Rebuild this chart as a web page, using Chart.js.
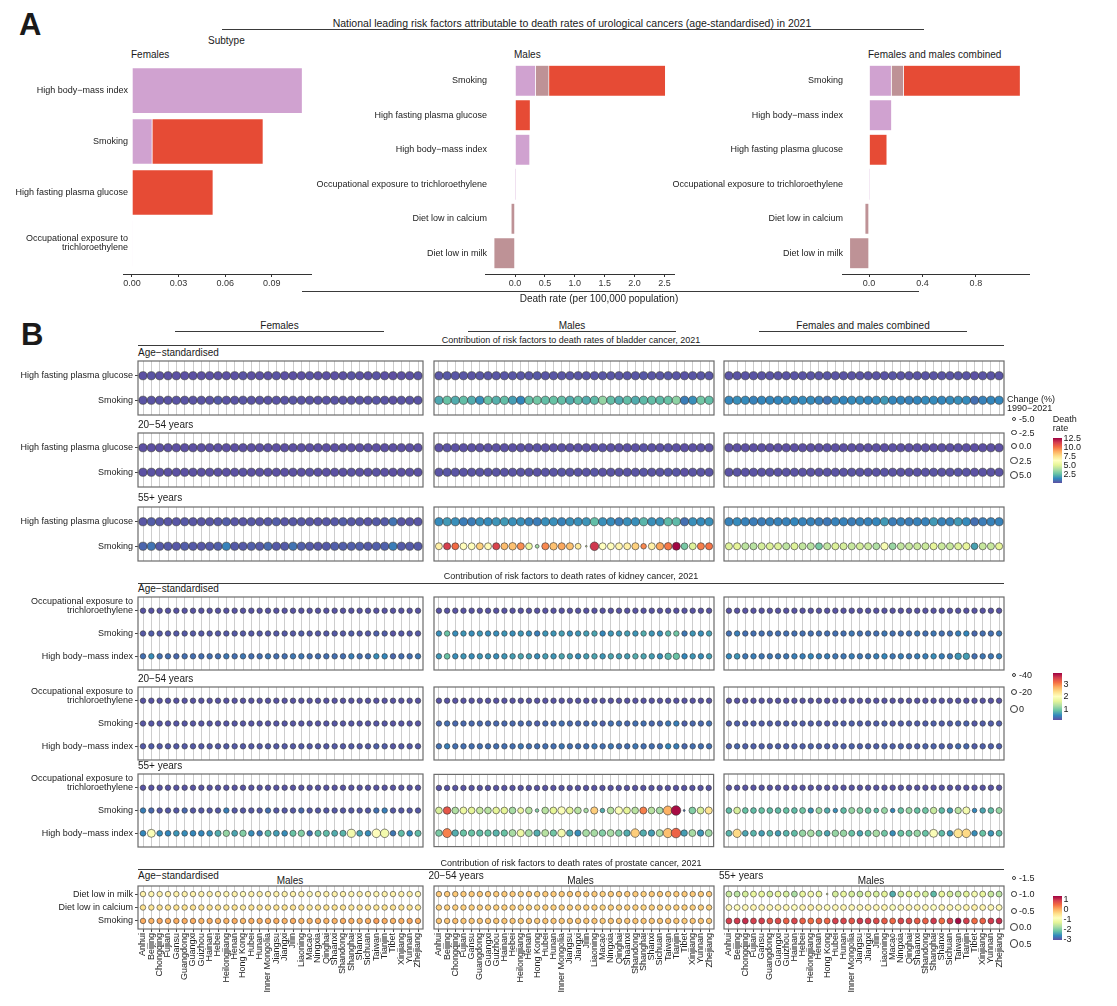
<!DOCTYPE html>
<html>
<head>
<meta charset="utf-8">
<script src="https://cdn.jsdelivr.net/npm/chart.js@4.4.1/dist/chart.umd.min.js"></script>
<style>
body { margin: 0; background: #fff; font-family: "Liberation Sans", Arial, sans-serif; color: #1a1a1a; }
#page { position: relative; width: 1117px; height: 1006px; overflow: hidden; background: #fff; }
.t { position: absolute; white-space: nowrap; line-height: 1; }
.hl { position: absolute; height: 0; border-top: 1px solid #3a3a3a; }
.key { position: absolute; border: 0.8px solid #333; border-radius: 50%; background: #fff; box-sizing: border-box; }
.bar { position: absolute; }
canvas { position: absolute; }
</style>
</head>
<body>
<div id="page"></div>
<script>
// ---------- panel A data ----------
const femaleRisks = ['High body−mass index', 'Smoking', 'High fasting plasma glucose', ['Occupational exposure to', 'trichloroethylene']];
const afKidney   = [0.1097, 0.0131, 0, 0.0003];
const afProstate = [0, 0, 0, 0];
const afBladder  = [0, 0.0714, 0.0523, 0];
const afTicks = [0, 0.03, 0.06, 0.09];

const maleRisks = ['Smoking', 'High fasting plasma glucose', 'High body−mass index', 'Occupational exposure to trichloroethylene', 'Diet low in calcium', 'Diet low in milk'];
const amKidney   = [0.347, 0, 0.25, 0.003, 0, 0];
const amProstate = [0.223, 0, 0, 0, -0.068, -0.355];
const amBladder  = [1.95, 0.258, 0, 0, 0, 0];
const amTicks = [0, 0.5, 1, 1.5, 2, 2.5];

const bothRisks = ['Smoking', 'High body−mass index', 'High fasting plasma glucose', 'Occupational exposure to trichloroethylene', 'Diet low in calcium', 'Diet low in milk'];
const acKidney   = [0.168, 0.17, 0, 0.002, 0, 0];
const acProstate = [0.092, 0, 0, 0, -0.032, -0.147];
const acBladder  = [0.874, 0, 0.135, 0, 0, 0];
const acTicks = [0, 0.4, 0.8];

// ---------- panel B data ----------
const provinces = ['Anhui','Beijing','Chongqing','Fujian','Gansu','Guangdong','Guangxi','Guizhou','Hainan','Hebei','Heilongjiang','Henan','Hong Kong','Hubei','Hunan','Inner Mongolia','Jiangsu','Jiangxi','Jilin','Liaoning','Macao','Ningxia','Qinghai','Shaanxi','Shandong','Shanghai','Shanxi','Sichuan','Taiwan','Tianjin','Tibet','Xinjiang','Yunnan','Zhejiang'];
const bladderRisks  = ['High fasting plasma glucose', 'Smoking'];
const kidneyRisks   = [['Occupational exposure to', 'trichloroethylene'], 'Smoking', 'High body−mass index'];
const prostateRisks = ['Diet low in milk', 'Diet low in calcium', 'Smoking'];

// bladder: death rate (colour), rows = HFPG, Smoking
const blRate_as_f = [
  [0.25,0.3,0.25,0.25,0.25,0.25,0.25,0.25,0.25,0.25, 0.25,0.25,0.3,0.25,0.25,0.25,0.3,0.25,0.25,0.25, 0.3,0.25,0.25,0.25,0.25,0.3,0.25,0.25,0.3,0.25, 0.2,0.25,0.25,0.3],
  [0.3,0.3,0.3,0.3,0.3,0.3,0.3,0.3,0.3,0.45, 0.3,0.3,0.35,0.3,0.3,0.3,0.3,0.3,0.35,0.3, 0.3,0.3,0.3,0.3,0.3,0.3,0.3,0.3,0.35,0.3, 0.25,0.3,0.3,0.3]];
const blRate_as_m = [
  [0.35,0.4,0.35,0.35,0.3,0.35,0.35,0.35,0.35,0.35, 0.35,0.35,0.4,0.35,0.35,0.35,0.35,0.35,0.35,0.35, 0.35,0.35,0.35,0.35,0.35,0.4,0.35,0.35,0.4,0.35, 0.3,0.35,0.35,0.35],
  [2.1,2.7,2.2,2.6,2.2,1.6,2.7,2.3,2.6,1.9, 1.4,2.6,2.9,2.6,2.7,2.6,2.2,2.6,2.2,2.5, 3.5,2.6,2.2,2.6,2.2,2.5,2.6,2.5,2.7,3.4, 1.2,1.6,2.9,2.6]];
const blRate_as_c = [
  [0.3,0.3,0.3,0.3,0.3,0.3,0.3,0.3,0.3,0.3, 0.3,0.3,0.35,0.3,0.3,0.3,0.3,0.3,0.3,0.3, 0.35,0.3,0.3,0.3,0.3,0.3,0.3,0.3,0.35,0.3, 0.25,0.3,0.3,0.3],
  [1.4,1.6,1.5,1.3,1.4,1.4,1.4,1.5,1.4,1.5, 1.5,1.3,1.0,1.5,1.4,1.5,1.5,1.4,1.5,1.8, 1.4,1.4,1.3,1.4,1.5,1.5,1.4,1.5,1.6,1.5, 0.9,1.3,1.4,1.4]];
const blRate_20_f = [
  [0.22,0.22,0.22,0.22,0.22,0.22,0.22,0.22,0.22,0.22, 0.22,0.22,0.22,0.22,0.22,0.22,0.22,0.22,0.22,0.22, 0.22,0.22,0.22,0.22,0.22,0.22,0.22,0.22,0.22,0.22, 0.22,0.22,0.22,0.22],
  [0.25,0.28,0.25,0.25,0.25,0.25,0.25,0.25,0.25,0.25, 0.25,0.25,0.28,0.25,0.25,0.25,0.25,0.25,0.25,0.25, 0.28,0.25,0.25,0.25,0.25,0.28,0.25,0.25,0.28,0.25, 0.22,0.25,0.25,0.25]];
const blRate_20_m = [
  [0.25,0.28,0.25,0.25,0.25,0.25,0.25,0.25,0.25,0.25, 0.25,0.25,0.28,0.25,0.25,0.25,0.25,0.25,0.25,0.25, 0.28,0.25,0.25,0.25,0.25,0.28,0.25,0.25,0.28,0.25, 0.22,0.25,0.25,0.25],
  [0.3,0.35,0.3,0.3,0.3,0.3,0.3,0.3,0.3,0.3, 0.3,0.3,0.28,0.3,0.3,0.35,0.3,0.3,0.3,0.35, 0.28,0.3,0.3,0.3,0.3,0.35,0.3,0.3,0.38,0.35, 0.25,0.3,0.3,0.3]];
const blRate_20_c = [
  [0.22,0.22,0.22,0.22,0.22,0.22,0.22,0.22,0.22,0.22, 0.22,0.22,0.25,0.22,0.22,0.22,0.22,0.22,0.22,0.22, 0.25,0.22,0.22,0.22,0.22,0.22,0.22,0.22,0.25,0.22, 0.22,0.22,0.22,0.22],
  [0.28,0.3,0.28,0.28,0.28,0.28,0.28,0.28,0.28,0.28, 0.28,0.28,0.28,0.28,0.28,0.3,0.28,0.28,0.28,0.3, 0.28,0.28,0.28,0.28,0.28,0.3,0.28,0.28,0.33,0.3, 0.25,0.28,0.28,0.28]];
const blRate_55_f = [
  [0.35,0.5,0.4,0.35,0.35,0.4,0.35,0.35,0.35,0.4, 0.5,0.35,0.35,0.4,0.35,0.4,0.5,0.35,0.4,0.4, 0.35,0.35,0.4,0.4,0.5,0.4,0.4,0.35,0.45,0.45, 1.0,0.35,0.35,0.35],
  [0.7,1.0,0.45,0.45,0.4,0.5,0.45,0.4,0.45,0.55, 1.3,0.45,0.45,0.55,0.45,0.8,0.45,0.45,1.0,0.55, 0.45,0.4,0.45,0.55,0.55,0.55,0.55,0.45,0.55,0.6, 1.2,0.45,0.45,0.45]];
const blRate_55_m = [
  [1.5,1.8,1.6,1.2,1.2,1.6,1.5,1.7,1.8,1.6, 1.6,1.3,1.2,1.6,1.6,1.3,1.6,1.6,1.7,2.6, 1.6,1.5,1.2,1.6,1.6,2.4,1.6,1.6,2.5,2.5, 0.9,1.6,1.5,1.6],
  [7.0,11.3,10.2,6.5,6.5,8.0,6.6,11.2,8.5,8.4, 9.5,5.5,3.8,9.6,8.4,9.0,8.4,7.2,4.5,11.5, 6.4,6.5,6.8,7.0,8.0,9.6,7.0,9.0,9.9,12.5, 3.0,5.0,9.8,10.0]];
const blRate_55_c = [
  [1.3,1.5,1.3,1.2,1.2,1.3,1.3,1.3,1.4,1.3, 1.3,1.2,1.1,1.3,1.3,1.2,1.3,1.3,1.4,1.8, 1.2,1.3,1.2,1.3,1.3,1.8,1.3,1.3,1.8,1.5, 0.9,1.2,1.3,1.3],
  [5.0,5.2,4.3,4.2,4.8,5.0,5.0,4.3,5.0,4.4, 4.2,3.0,4.4,5.0,4.8,4.5,4.8,4.6,4.0,6.0, 3.6,4.4,4.5,4.6,4.6,5.2,4.6,4.5,5.0,5.3, 2.0,4.5,4.5,5.2]];
// bladder: change (%) 1990-2021 (size)
const blChgFlat = [5,5,5,5,5,5,5,5,5,5, 5,5,5,5,5,5,5,5,5,5, 5,5,5,5,5,5,5,5,5,5, 5,5,5,5];
const blChg_55_m_smk = [1.5,2,1.5,1.5,1.5,1.5,1.5,2,1.5,3, 2,1,-5,2,3,2,2,-1,-7.2,6.3, 1.5,1.5,1.5,1.5,2,-1.8,1.5,3,3,4, 1,1.5,2,2];
const blChg_55_c_smk = [2,2,2,2,2,2,2,2,2,2, 2,1.5,2,2,2,2,2,2,1.5,3, 1.5,2,2,2,2,2,2,2,2,2.5, 1,2,2,2];

// kidney: death rate, rows = Occupational, Smoking, High BMI
const kdOccRow = [0.12,0.12,0.12,0.12,0.12,0.12,0.12,0.12,0.12,0.12, 0.12,0.12,0.12,0.12,0.12,0.12,0.12,0.12,0.12,0.12, 0.12,0.12,0.12,0.12,0.12,0.12,0.12,0.12,0.12,0.12, 0.12,0.12,0.12,0.12];
const kdRate_as_f = [kdOccRow,
  [0.15,0.18,0.15,0.15,0.15,0.15,0.15,0.15,0.15,0.15, 0.15,0.15,0.15,0.15,0.15,0.15,0.15,0.15,0.15,0.18, 0.15,0.15,0.15,0.15,0.15,0.18,0.15,0.15,0.2,0.18, 0.12,0.15,0.15,0.15],
  [0.3,0.5,0.3,0.3,0.25,0.3,0.3,0.3,0.3,0.3, 0.35,0.3,0.35,0.3,0.3,0.35,0.3,0.3,0.35,0.35, 0.3,0.3,0.3,0.3,0.3,0.4,0.3,0.3,0.5,0.45, 0.25,0.3,0.3,0.35]];
const kdRate_as_m = [kdOccRow,
  [0.5,0.85,0.5,0.55,0.5,0.55,0.5,0.5,0.55,0.5, 0.55,0.5,0.4,0.55,0.55,0.6,0.5,0.55,0.6,0.65, 0.45,0.55,0.55,0.6,0.55,0.7,0.55,0.5,0.75,0.9, 0.35,0.55,0.5,0.6],
  [0.55,0.85,0.5,0.55,0.5,0.55,0.55,0.5,0.55,0.6, 0.65,0.6,0.5,0.6,0.55,0.65,0.6,0.5,0.6,0.65, 0.55,0.65,0.6,0.6,0.7,0.65,0.6,0.5,0.75,0.85, 0.45,0.55,0.5,0.6]];
const kdRate_as_c = [kdOccRow,
  [0.3,0.4,0.3,0.3,0.3,0.3,0.3,0.3,0.3,0.3, 0.3,0.3,0.3,0.3,0.3,0.35,0.3,0.3,0.3,0.35, 0.3,0.3,0.3,0.35,0.3,0.35,0.3,0.3,0.4,0.45, 0.25,0.3,0.3,0.35],
  [0.45,0.55,0.35,0.4,0.35,0.35,0.35,0.35,0.4,0.4, 0.45,0.4,0.4,0.35,0.35,0.4,0.35,0.35,0.4,0.45, 0.35,0.4,0.35,0.4,0.4,0.5,0.4,0.35,0.55,0.6, 0.3,0.35,0.35,0.4]];
const kdRate_20_f = [kdOccRow,
  [0.13,0.14,0.13,0.13,0.13,0.13,0.13,0.13,0.13,0.13, 0.13,0.13,0.13,0.13,0.13,0.13,0.13,0.13,0.13,0.13, 0.13,0.13,0.13,0.13,0.13,0.14,0.13,0.13,0.14,0.14, 0.12,0.13,0.13,0.13],
  [0.16,0.18,0.16,0.16,0.16,0.16,0.16,0.16,0.16,0.16, 0.17,0.16,0.16,0.16,0.16,0.17,0.16,0.16,0.16,0.17, 0.16,0.16,0.16,0.16,0.16,0.17,0.16,0.16,0.2,0.18, 0.14,0.16,0.16,0.16]];
const kdRate_20_m = [kdOccRow,
  [0.25,0.3,0.25,0.25,0.25,0.25,0.25,0.25,0.25,0.25, 0.25,0.25,0.2,0.25,0.25,0.3,0.25,0.25,0.25,0.3, 0.2,0.3,0.3,0.25,0.3,0.3,0.25,0.25,0.35,0.4, 0.2,0.25,0.25,0.3],
  [0.3,0.4,0.3,0.3,0.3,0.3,0.3,0.3,0.3,0.3, 0.35,0.3,0.3,0.3,0.3,0.35,0.3,0.3,0.3,0.35, 0.3,0.35,0.3,0.3,0.35,0.3,0.3,0.3,0.45,0.4, 0.25,0.3,0.3,0.3]];
const kdRate_20_c = [kdOccRow,
  [0.18,0.2,0.18,0.18,0.18,0.18,0.18,0.18,0.18,0.18, 0.18,0.18,0.16,0.18,0.18,0.2,0.18,0.18,0.18,0.2, 0.16,0.18,0.18,0.18,0.18,0.2,0.18,0.18,0.22,0.22, 0.15,0.18,0.18,0.18],
  [0.2,0.25,0.2,0.2,0.2,0.2,0.2,0.2,0.2,0.2, 0.22,0.2,0.2,0.2,0.2,0.22,0.2,0.2,0.2,0.22, 0.2,0.22,0.2,0.2,0.22,0.22,0.2,0.2,0.28,0.26, 0.18,0.2,0.2,0.2]];
const kdRate_55_f = [kdOccRow,
  [0.4,0.25,0.15,0.15,0.15,0.25,0.15,0.15,0.15,0.15, 0.4,0.15,0.15,0.15,0.15,0.3,0.15,0.15,0.15,0.25, 0.15,0.15,0.15,0.15,0.15,0.15,0.15,0.15,0.3,0.4, 0.15,0.15,0.15,0.15],
  [0.45,1.9,0.5,0.45,0.55,0.5,0.45,0.45,0.5,0.7, 1.1,0.65,1.0,0.5,0.35,0.8,0.6,0.5,0.85,1.0, 0.3,0.8,0.8,0.7,0.75,1.8,0.65,0.5,2.0,1.8, 0.35,0.8,0.45,0.8]];
const kdRate_55_m = [kdOccRow,
  [1.5,3.3,1.25,1.7,1.6,1.4,1.3,1.6,1.6,1.2, 1.7,1.3,1.0,1.3,1.6,1.9,1.6,1.3,1.2,2.5, 0.7,1.3,1.9,1.6,1.3,3.0,1.3,1.2,2.7,3.8, 0.3,1.0,1.5,2.3],
  [0.95,3.0,0.7,0.85,0.85,0.8,0.85,0.75,0.85,1.2, 1.7,1.2,0.7,1.3,0.9,1.8,0.7,0.5,1.2,1.2, 1.0,1.2,1.0,0.7,2.5,0.7,0.6,1.2,2.6,3.2, 0.6,1.2,0.55,1.15]];
const kdRate_55_c = [kdOccRow,
  [0.8,1.5,0.85,0.8,0.85,0.8,0.8,0.85,0.8,0.9, 0.55,1.1,0.7,0.5,0.8,1.1,1.0,0.9,0.8,1.1, 0.45,0.85,1.1,0.85,0.9,1.4,0.8,0.6,1.3,1.8, 0.45,0.65,0.8,1.1],
  [0.75,2.4,0.65,0.75,0.6,0.75,0.6,0.75,0.8,1.1, 1.2,0.9,0.65,1.1,1.1,0.85,0.65,0.85,1.2,0.9, 0.5,0.85,0.9,1.1,0.85,1.9,0.8,0.55,2.3,2.4, 0.5,0.85,0.55,0.8]];
// kidney: change (%) 1990-2021
const kdChgFlat = [-33,-33,-33,-33,-33,-33,-33,-33,-33,-33, -33,-33,-33,-33,-33,-33,-33,-33,-33,-33, -33,-33,-33,-33,-33,-33,-33,-33,-33,-33, -33,-33,-33,-33];
const kdChg_as_bmi = [-33,-30,-33,-33,-33,-33,-33,-33,-33,-33, -33,-33,-33,-33,-33,-33,-33,-33,-33,-33, -33,-33,-33,-33,-33,-33,-33,-33,-21,-21, -33,-33,-33,-33];
const kdChg_55_f_bmi = [-30,0,-30,-30,-30,-30,-30,-30,-30,-25, -22,-28,-22,-30,-32,-25,-28,-30,-25,-22, -32,-25,-25,-27,-26,2,-28,-30,9,8, -32,-25,-30,-25];
const kdChg_55_m_smk = [-18,-6,-18,-15,-18,-18,-18,-18,-18,-18, -27,-18,-50,-18,-16,-6,-16,-18,-42,-12, -42,-18,-6,-16,-18,-14,-18,-18,16,27, -59,-18,-16,-12];
const kdChg_55_m_bmi = [-20,16,-22,-22,-22,-22,-22,-22,-22,-15, -10,-15,-22,-15,-22,-3,-22,-24,-15,-15, -20,-15,-20,-22,9,-22,-22,-15,20,27, -22,-15,-22,-15];
const kdChg_55_c_smk = [-30,-18,-30,-30,-30,-30,-30,-30,-30,-28, -34,-26,-32,-42,-30,-26,-28,-30,-40,-26, -42,-30,-26,-30,-28,-20,-30,-32,-22,-12, -42,-32,-30,-26];
const kdChg_55_c_bmi = [-28,5,-30,-28,-30,-28,-30,-28,-26,-20, -18,-26,-30,-20,-20,-26,-30,-26,-18,-26, -32,-26,-26,-20,-26,0,-28,-30,12,9, -32,-26,-30,-28];

// prostate (males): rows = milk, calcium, smoking
const prRate_as = [
  [-0.75,-0.8,-0.75,-0.75,-0.75,-0.75,-0.75,-0.75,-0.75,-0.75, -0.8,-0.75,-0.85,-0.75,-0.75,-0.75,-0.75,-0.75,-0.75,-0.75, -0.85,-0.75,-0.75,-0.75,-0.75,-0.8,-0.75,-0.75,-0.8,-0.75, -0.75,-0.75,-0.75,-0.8],
  [-0.55,-0.6,-0.55,-0.55,-0.55,-0.55,-0.55,-0.55,-0.55,-0.55, -0.6,-0.55,-0.65,-0.55,-0.55,-0.55,-0.55,-0.55,-0.55,-0.55, -0.65,-0.55,-0.55,-0.55,-0.55,-0.6,-0.55,-0.55,-0.6,-0.55, -0.55,-0.55,-0.55,-0.6],
  [-0.05,-0.1,0.0,-0.05,-0.05,-0.05,-0.05,-0.1,-0.05,-0.1, -0.1,-0.05,-0.15,-0.05,-0.05,-0.05,-0.05,-0.1,-0.05,-0.1, -0.1,-0.05,-0.1,-0.1,-0.05,-0.05,-0.1,-0.05,0.05,-0.05, -0.1,-0.05,0.0,-0.05]];
const prRate_20 = [
  [-0.3,-0.3,-0.3,-0.3,-0.3,-0.3,-0.3,-0.3,-0.3,-0.3, -0.35,-0.3,-0.35,-0.3,-0.3,-0.3,-0.3,-0.3,-0.3,-0.3, -0.35,-0.3,-0.3,-0.3,-0.3,-0.35,-0.3,-0.3,-0.35,-0.3, -0.3,-0.3,-0.3,-0.3],
  [-0.35,-0.35,-0.35,-0.35,-0.35,-0.35,-0.35,-0.35,-0.35,-0.35, -0.4,-0.35,-0.4,-0.35,-0.35,-0.35,-0.35,-0.35,-0.35,-0.35, -0.4,-0.35,-0.35,-0.35,-0.35,-0.4,-0.35,-0.35,-0.4,-0.35, -0.35,-0.35,-0.35,-0.35],
  [-0.25,-0.25,-0.2,-0.25,-0.25,-0.25,-0.25,-0.25,-0.25,-0.25, -0.3,-0.25,-0.3,-0.25,-0.25,-0.25,-0.25,-0.25,-0.25,-0.25, -0.3,-0.25,-0.25,-0.25,-0.25,-0.25,-0.25,-0.25,-0.2,-0.25, -0.3,-0.25,-0.25,-0.25]];
const prRate_55 = [
  [-1.6,-1.7,-1.5,-1.3,-1.3,-1.5,-1.3,-1.5,-1.8,-1.3, -1.1,-1.3,-1.4,-1.5,-1.3,-1.5,-1.6,-1.4,-1.5,-1.35, -2.4,-1.5,-1.4,-1.3,-1.5,-2.3,-1.3,-1.5,-1.6,-1.4, -1.1,-1.3,-1.6,-1.7],
  [-0.85,-0.9,-0.85,-0.8,-0.8,-0.85,-0.8,-0.85,-0.9,-0.8, -0.75,-0.8,-0.9,-0.85,-0.8,-0.85,-0.85,-0.8,-0.85,-0.8, -1.0,-0.85,-0.8,-0.8,-0.85,-0.95,-0.8,-0.85,-0.9,-0.8, -0.75,-0.8,-0.85,-0.85],
  [0.8,0.85,0.95,0.8,0.8,0.6,0.7,0.5,0.75,0.5, 0.4,0.5,0.45,0.8,0.75,0.6,0.85,0.8,0.7,0.55, 0.45,0.75,0.7,0.55,0.5,0.85,0.4,0.8,1.2,0.8, 0.4,0.5,0.85,0.95]];
const prChgFlat = [-1,-1,-1,-1,-1,-1,-1,-1,-1,-1, -1,-1,-1,-1,-1,-1,-1,-1,-1,-1, -1,-1,-1,-1,-1,-1,-1,-1,-1,-1, -1,-1,-1,-1];
const prChg55Flat = [-0.85,-0.85,-0.85,-0.85,-0.85,-0.85,-0.85,-0.85,-0.85,-0.85, -0.85,-0.85,-0.85,-0.85,-0.85,-0.85,-0.85,-0.85,-0.85,-0.85, -0.85,-0.85,-0.85,-0.85,-0.85,-0.85,-0.85,-0.85,-0.85,-0.85, -0.85,-0.85,-0.85,-0.85];
const prChg_55_milk = [-0.85,-0.85,-0.85,-0.85,-0.85,-0.85,-0.85,-0.85,-0.85,-0.85, -0.85,-0.85,-1.85,-0.85,-0.85,-0.85,-0.85,-0.85,-0.85,-0.85, -0.85,-0.85,-0.85,-0.85,-0.85,-0.85,-0.85,-0.85,-0.85,-0.85, -0.85,-0.85,-0.85,-0.85];

// legend breaks
const blSizeBreaks = [-5, -2.5, 0, 2.5, 5];
const blColorBreaks = [12.5, 10, 7.5, 5, 2.5];
const kdSizeBreaks = [-40, -20, 0];
const kdColorBreaks = [3, 2, 1];
const prSizeBreaks = [-1.5, -1, -0.5, 0, 0.5];
const prColorBreaks = [1, 0, -1, -2, -3];

// ---------- styles / helpers ----------
const kidneyCol = '#D0A2D0', prostateCol = '#BE9296', bladderCol = '#E64B35';
const spectral = ['#5E4FA2','#3288BD','#66C2A5','#ABDDA4','#E6F598','#FFFFBF','#FEE08B','#FDAE61','#F46D43','#D53E4F','#9E0142'];
const specRgb = spectral.map(h => [1, 3, 5].map(i => parseInt(h.substr(i, 2), 16)));
function spectralAt(v, lo, hi) {
    let t = Math.max(0, Math.min(1, (v - lo) / (hi - lo))) * 10;
    const i = Math.min(9, Math.floor(t)), f = t - i;
    const a = specRgb[i], b = specRgb[i + 1];
    return 'rgb(' + a.map((c, k) => Math.round(c + (b[k] - c) * f)).join(',') + ')';
}
const bladderScale  = { lo: 0.2,   hi: 12.6, r: v => Math.sqrt(Math.max(0.5, 10.2 + 1.32 * v)) };
const kidneyScale   = { lo: 0.08,  hi: 3.87, r: v => Math.sqrt(Math.max(0.5, 16 + 0.255 * v)) };
const prostateScale = { lo: -3.13, hi: 1.27, r: v => Math.sqrt(Math.max(0.5, 15.5 + 8 * v)) };

Chart.defaults.font.family = "'Liberation Sans', Arial, sans-serif";
Chart.defaults.font.size = 9;
Chart.defaults.color = '#222';
Chart.defaults.animation = false;

const page = document.getElementById('page');

function label(txt, x, y, o = {}) {
    const d = document.createElement('div');
    d.className = 't';
    d.textContent = txt;
    d.style.left = x + 'px';
    d.style.top = y + 'px';
    d.style.fontSize = (o.size || 10) + 'px';
    if (o.bold) d.style.fontWeight = 'bold';
    const tx = o.align === 'center' ? '-50%' : o.align === 'right' ? '-100%' : '0';
    d.style.transform = `translate(${tx},-50%)`;
    page.appendChild(d);
}
function hline(x1, x2, y) {
    const d = document.createElement('div');
    d.className = 'hl';
    d.style.left = x1 + 'px';
    d.style.top = y + 'px';
    d.style.width = (x2 - x1) + 'px';
    page.appendChild(d);
}
function canvas(x, y, w, h) {
    const c = document.createElement('canvas');
    c.style.left = x + 'px';
    c.style.top = y + 'px';
    c.style.width = w + 'px';
    c.style.height = h + 'px';
    c.width = w;
    c.height = h;
    page.appendChild(c);
    return c;
}

const boxPlugin = {
    id: 'box',
    beforeDatasetsDraw(chart) {
        const a = chart.chartArea, g = chart.ctx;
        g.save();
        g.strokeStyle = '#6b6b6b';
        g.lineWidth = 1.2;
        g.strokeRect(a.left, a.top, a.right - a.left, a.bottom - a.top);
        g.restore();
    }
};
// vertical scales: no extra room reserved for the first/last label
const noPadY = s => { s.paddingTop = 0; s.paddingBottom = 0; };
const noPadX = s => { s.paddingLeft = 0; s.paddingRight = 0; };

// horizontal stacked bars (panel A)
function barPanel(p) {
    const n = p.cats.length;
    const cv = canvas(p.cl, p.ct, p.cw, p.ch);
    const span = p.max - p.min;
    const ds = (vals, col) => ({
        data: vals.map((v, i) => ({ x: v, y: i + 1 })),
        backgroundColor: col,
        borderColor: '#ffffff',
        borderWidth: c => (Math.abs(c.raw.x) > span * 0.02 ? 0.6 : 0),
        barPercentage: 0.9,
        categoryPercentage: 1
    });
    // axis line continues a few px left of the panel, as in the original
    const axisExt = {
        id: 'axisExt',
        afterDraw(chart) {
            const a = chart.chartArea, g = chart.ctx;
            g.save();
            g.strokeStyle = '#333';
            g.lineWidth = 1;
            g.beginPath();
            g.moveTo(p.lineL - p.cl, a.bottom + 0.5);
            g.lineTo(a.left, a.bottom + 0.5);
            g.stroke();
            g.restore();
        }
    };
    new Chart(cv, {
        type: 'bar',
        data: { datasets: [ds(p.kidney, kidneyCol), ds(p.prostate, prostateCol), ds(p.bladder, bladderCol)] },
        options: {
            indexAxis: 'y',
            responsive: false,
            events: [],
            layout: { padding: { top: p.area.t - p.ct, right: p.cl + p.cw - p.area.r, left: 0, bottom: 0 } },
            plugins: { legend: { display: false }, tooltip: { enabled: false } },
            scales: {
                x: {
                    type: 'linear', stacked: true, min: p.min, max: p.max,
                    afterBuildTicks: s => { s.ticks = p.ticks.map(v => ({ value: v })); },
                    afterFit: s => { s.height = p.ct + p.ch - p.area.b; noPadX(s); },
                    grid: { drawOnChartArea: false, drawTicks: true, tickLength: 3, color: '#333' },
                    border: { display: true, color: '#333', width: 1 },
                    ticks: { padding: 1, color: '#333', font: { size: 9 }, callback: v => v.toFixed(p.dec) }
                },
                y: {
                    type: 'linear', stacked: true, reverse: true, offset: false, min: 0.4, max: n + 0.6,
                    afterBuildTicks: s => { s.ticks = p.cats.map((_, i) => ({ value: i + 1 })); },
                    afterFit: s => { s.width = p.area.l - p.cl; noPadY(s); },
                    grid: { display: false, drawTicks: false, offset: false },
                    border: { display: false },
                    ticks: { autoSkip: false, padding: 1, color: '#222', font: { size: 9, lineHeight: 1.0 }, callback: v => p.cats[v - 1] }
                }
            }
        },
        plugins: [axisExt]
    });
}

// bubble grid (panel B)
function bubblePanel(p) {
    const n = p.rows.length;
    const cvLeft = p.labels ? 0 : p.x - 5;
    const cvTop = p.y - 5;
    const below = p.xlabels ? 72 : 5;
    const cv = canvas(cvLeft, cvTop, p.x + p.w + 5 - cvLeft, p.h + 5 + below);
    const pts = [];
    p.rate.forEach((row, i) => row.forEach((v, j) => {
        pts.push({ x: j + 1, y: n - i, r: p.scale.r(p.chg[i][j]), v: v });
    }));
    new Chart(cv, {
        type: 'bubble',
        data: { datasets: [{
            data: pts,
            backgroundColor: c => spectralAt(c.raw.v, p.scale.lo, p.scale.hi),
            borderColor: '#333',
            borderWidth: 0.6,
            clip: false
        }] },
        options: {
            responsive: false,
            events: [],
            layout: { padding: { top: 5, right: 5, left: p.labels ? 0 : 5, bottom: p.xlabels ? 0 : 5 } },
            plugins: { legend: { display: false }, tooltip: { enabled: false } },
            scales: {
                x: {
                    type: 'linear', min: 0.4, max: provinces.length + 0.6,
                    afterBuildTicks: s => { s.ticks = provinces.map((_, i) => ({ value: i + 1 })); },
                    afterFit: s => { s.height = p.xlabels ? 72 : 0; noPadX(s); },
                    grid: { color: '#cdcdcd', lineWidth: 1, drawTicks: !!p.xlabels, tickLength: 3, tickColor: '#444' },
                    border: { display: false },
                    ticks: { display: !!p.xlabels, autoSkip: false, minRotation: 90, maxRotation: 90, padding: 1, color: '#222', font: { size: 9 }, callback: v => provinces[v - 1] }
                },
                y: {
                    type: 'linear', display: !!p.labels, min: 0.4, max: n + 0.6,
                    afterBuildTicks: s => { s.ticks = p.rows.map((_, i) => ({ value: i + 1 })); },
                    afterFit: s => { s.width = p.x - cvLeft; noPadY(s); },
                    grid: { drawOnChartArea: false, drawTicks: true, tickLength: 3, color: '#444' },
                    border: { display: false },
                    ticks: {
                        autoSkip: false, padding: 2, color: '#222', font: { size: 9, lineHeight: 1.05 },
                        callback: v => { const l = p.rows[n - v]; return Array.isArray(l) ? l.concat(['']) : l; }
                    }
                }
            }
        },
        plugins: [boxPlugin]
    });
}

function sizeLegend(breaks, ys, scale, dec) {
    breaks.forEach((b, i) => {
        const r = scale.r(b);
        const d = document.createElement('div');
        d.className = 'key';
        d.style.left = (1014 - r) + 'px';
        d.style.top = (ys[i] - r) + 'px';
        d.style.width = d.style.height = (2 * r) + 'px';
        page.appendChild(d);
        label(b.toFixed(dec), 1019, ys[i], { size: 9 });
    });
}
function colorBar(top, h, breaks, scale, dec) {
    const d = document.createElement('div');
    d.className = 'bar';
    d.style.left = '1052.7px';
    d.style.top = top + 'px';
    d.style.width = '9.6px';
    d.style.height = h + 'px';
    d.style.background = 'linear-gradient(to top,' + spectral.join(',') + ')';
    page.appendChild(d);
    breaks.forEach(b => {
        const y = top + (scale.hi - b) / (scale.hi - scale.lo) * h;
        label(b.toFixed(dec), 1063.5, y, { size: 9 });
    });
}

// ---------- panel A ----------
label('A', 19, 24, { size: 31, bold: true });
label('National leading risk factors attributable to death rates of urological cancers (age-standardised) in 2021', 572, 23, { align: 'center', size: 10.5 });
hline(222, 924, 28.5);
label('Subtype', 208, 41);
label('Females', 131, 55);
label('Males', 514, 55);
label('Females and males combined', 868, 55);

barPanel({ cl: 0, ct: 55, cw: 320, ch: 245, area: { l: 129, r: 311, t: 60, b: 274 }, lineL: 123, cats: femaleRisks,
    kidney: afKidney, prostate: afProstate, bladder: afBladder, min: -0.0019, max: 0.1152, ticks: afTicks, dec: 2 });
barPanel({ cl: 290, ct: 55, cw: 390, ch: 245, area: { l: 488, r: 674, t: 60, b: 274 }, lineL: 485, cats: maleRisks,
    kidney: amKidney, prostate: amProstate, bladder: amBladder, min: -0.452, max: 2.66, ticks: amTicks, dec: 1 });
barPanel({ cl: 650, ct: 55, cw: 390, ch: 245, area: { l: 844, r: 1029, t: 60, b: 274 }, lineL: 842, cats: bothRisks,
    kidney: acKidney, prostate: acProstate, bladder: acBladder, min: -0.188, max: 1.198, ticks: acTicks, dec: 1 });

hline(302, 919, 290.5);
label('Death rate (per 100,000 population)', 599, 298.5, { align: 'center' });

// ---------- panel B ----------
label('B', 21, 334, { size: 31, bold: true });
label('Females', 279.5, 325.5, { align: 'center' });
hline(175, 384, 331);
label('Males', 572, 325.5, { align: 'center' });
hline(468, 676, 331);
label('Females and males combined', 863, 325.5, { align: 'center' });
hline(759, 967, 331);

const colX = [138, 428.5, 719];
const colW = 285;
const ageNames = ['Age−standardised', '20−54 years', '55+ years'];

// bladder
const blTops = [361, 433, 506.5];
const blPanels = [
    [[blRate_as_f, [blChgFlat, blChgFlat]], [blRate_as_m, [blChgFlat, blChgFlat]], [blRate_as_c, [blChgFlat, blChgFlat]]],
    [[blRate_20_f, [blChgFlat, blChgFlat]], [blRate_20_m, [blChgFlat, blChgFlat]], [blRate_20_c, [blChgFlat, blChgFlat]]],
    [[blRate_55_f, [blChgFlat, blChgFlat]], [blRate_55_m, [blChgFlat, blChg_55_m_smk]], [blRate_55_c, [blChgFlat, blChg_55_c_smk]]]
];
label('Contribution of risk factors to death rates of bladder cancer, 2021', 571, 339.5, { align: 'center', size: 9 });
hline(138, 1004, 344.5);
blTops.forEach((top, a) => {
    label(ageNames[a], 138, top - 8.5);
    blPanels[a].forEach((pp, s) => bubblePanel({ x: colX[s], y: top, w: colW, h: 54, rows: bladderRisks, rate: pp[0], chg: pp[1], scale: bladderScale, labels: s === 0 }));
});
label('Change (%)', 1007, 399, { size: 9 });
label('1990−2021', 1007, 408, { size: 9 });
sizeLegend(blSizeBreaks, [419, 432.7, 446, 460.7, 474.7], bladderScale, 1);
label('Death', 1052.7, 418.7, { size: 9 });
label('rate', 1052.7, 427.5, { size: 9 });
colorBar(437.7, 45, blColorBreaks, bladderScale, 1);

// kidney
const kdTops = [596.5, 686.5, 773.5];
const kdPanels = [
    [[kdRate_as_f, [kdChgFlat, kdChgFlat, kdChgFlat]], [kdRate_as_m, [kdChgFlat, kdChgFlat, kdChg_as_bmi]], [kdRate_as_c, [kdChgFlat, kdChgFlat, kdChg_as_bmi]]],
    [[kdRate_20_f, [kdChgFlat, kdChgFlat, kdChgFlat]], [kdRate_20_m, [kdChgFlat, kdChgFlat, kdChgFlat]], [kdRate_20_c, [kdChgFlat, kdChgFlat, kdChgFlat]]],
    [[kdRate_55_f, [kdChgFlat, kdChgFlat, kdChg_55_f_bmi]], [kdRate_55_m, [kdChgFlat, kdChg_55_m_smk, kdChg_55_m_bmi]], [kdRate_55_c, [kdChgFlat, kdChg_55_c_smk, kdChg_55_c_bmi]]]
];
label('Contribution of risk factors to death rates of kidney cancer, 2021', 571, 576, { align: 'center', size: 9 });
hline(138, 1004, 582.5);
kdTops.forEach((top, a) => {
    label(ageNames[a], 138, top - 8);
    kdPanels[a].forEach((pp, s) => bubblePanel({ x: colX[s], y: top, w: colW, h: 73.5, rows: kidneyRisks, rate: pp[0], chg: pp[1], scale: kidneyScale, labels: s === 0 }));
});
sizeLegend(kdSizeBreaks, [675, 692, 708.7], kidneyScale, 0);
colorBar(673.3, 46.7, kdColorBreaks, kidneyScale, 0);

// prostate
const prPanels = [
    [prRate_as, [prChgFlat, prChgFlat, prChgFlat]],
    [prRate_20, [prChgFlat, prChgFlat, prChgFlat]],
    [prRate_55, [prChg_55_milk, prChg55Flat, prChg55Flat]]
];
label('Contribution of risk factors to death rates of prostate cancer, 2021', 571, 863, { align: 'center', size: 9 });
hline(138, 1004, 868.5);
prPanels.forEach((pp, a) => {
    label(ageNames[a], colX[a], 876);
    label('Males', colX[a] + colW / 2 + 9.5, 881, { align: 'center' });
    bubblePanel({ x: colX[a], y: 885.5, w: colW, h: 43.7, rows: prostateRisks, rate: pp[0], chg: pp[1], scale: prostateScale, labels: a === 0, xlabels: true });
});
sizeLegend(prSizeBreaks, [877.7, 894, 911, 927.3, 943.7], prostateScale, 1);
colorBar(896, 44, prColorBreaks, prostateScale, 0);
</script>
</body>
</html>
